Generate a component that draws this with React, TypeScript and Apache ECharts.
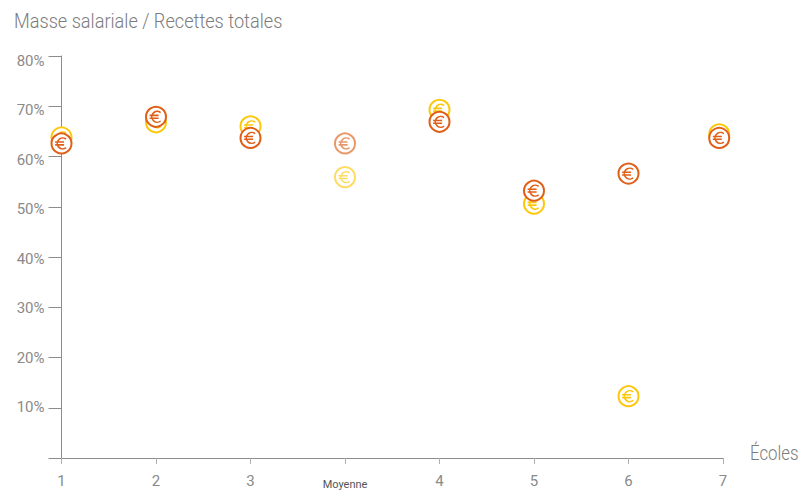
import React, { useEffect, useRef } from "react";
import * as echarts from "echarts";

const categories = ["1", "2", "3", "Moyenne", "4", "5", "6", "7"];
const markerPositions = [0, 1, 2, 3, 4, 5, 6, 6.96];
const yellowValues = [63.8, 66.8, 66, 55.9, 69.3, 50.6, 12.3, 64.4];
const orangeValues = [62.6, 67.9, 63.7, 62.6, 66.9, 53.2, 56.6, 63.7];
const yTickValues = [10, 20, 30, 40, 50, 60, 70, 80];
const averageCategory = "Moyenne";
const YELLOW = "#fdc70c";
const ORANGE = "#df5f17";
const AXIS_FONT = "'Roboto', sans-serif";
const EURO_PATH = "M4.6 -4.2 A5.4 5.4 0 1 0 4.6 4.2 M-6.4 -1.4 H2.6 M-6.4 1.4 H2.6";

function markerSeries(name: string, values: number[], color: string) {
  return {
    name,
    type: "custom",
    clip: false,
    data: values.map((v, i) => [markerPositions[i], v, categories[i] === averageCategory ? 0.65 : 1]),
    renderItem: (_: unknown, api: any) => {
      const [x, y] = api.coord([api.value(0), api.value(1)]);
      const opacity = api.value(2);
      return {
        type: "group",
        x,
        y,
        children: [
          {
            type: "circle",
            shape: { cx: 0, cy: 0, r: 10 },
            style: { fill: "#ffffff", stroke: color, lineWidth: 2, opacity },
          },
          {
            type: "path",
            shape: { pathData: EURO_PATH },
            style: { fill: "none", stroke: color, lineWidth: 1.6, opacity },
          },
        ],
      };
    },
  };
}

export default function App() {
  const ref = useRef<HTMLDivElement>(null);
  useEffect(() => {
    const chart = echarts.init(ref.current!, undefined, { renderer: "svg" });
    chart.setOption({
      animation: false,
      backgroundColor: "#ffffff",
      grid: { left: 61.5, right: 79, top: 56, bottom: 33, outerBoundsMode: "none" },
      xAxis: {
        type: "value",
        min: 0,
        max: 7,
        interval: 1,
        splitLine: { show: false },
        axisLine: { show: true, lineStyle: { color: "#8c8c8c", width: 1 } },
        axisTick: { show: true, length: 6, lineStyle: { color: "#b0b0b0" } },
        axisLabel: {
          margin: 15,
          color: "#8a8a8a",
          fontFamily: AXIS_FONT,
          fontSize: 15,
          showMinLabel: true,
          showMaxLabel: true,
          formatter: (v: number) => {
            const c = categories[v];
            return c === averageCategory ? `{m|${c}}` : c;
          },
          rich: { m: { color: "#555555", fontSize: 11, fontFamily: AXIS_FONT, padding: [6, 0, 0, 0] } },
        },
      },
      yAxis: [
        {
          type: "value",
          min: 0,
          max: 80,
          interval: 10,
          splitLine: { show: false },
          axisLine: { show: true, lineStyle: { color: "#8c8c8c", width: 1 } },
          axisTick: { show: true, length: 13, lineStyle: { color: "#8c8c8c" } },
          axisLabel: { show: false },
        },
        {
          type: "value",
          position: "left",
          min: -0.32,
          max: 81.01,
          splitLine: { show: false },
          axisLine: { show: false },
          axisTick: { show: false },
          axisLabel: {
            customValues: yTickValues,
            margin: 17,
            color: "#8a8a8a",
            fontFamily: AXIS_FONT,
            fontSize: 15,
            formatter: (v: number) => `${v}%`,
          },
        },
      ],
      graphic: [
        {
          type: "text",
          x: 14,
          y: 21,
          scaleX: 0.865,
          style: {
            text: "Masse salariale / Recettes totales",
            fill: "#7c7c7c",
            font: "300 21px Roboto, sans-serif",
            verticalAlign: "middle",
          },
        },
        {
          type: "text",
          x: 750,
          y: 453,
          scaleX: 0.8,
          style: {
            text: "Écoles",
            fill: "#7c7c7c",
            font: "300 21px Roboto, sans-serif",
            verticalAlign: "middle",
          },
        },
      ],
      series: [markerSeries("Jaune", yellowValues, YELLOW), markerSeries("Orange", orangeValues, ORANGE)],
    });
    return () => chart.dispose();
  }, []);
  return <div ref={ref} style={{ position: "fixed", left: 0, top: 0, width: 802, height: 491 }} />;
}
